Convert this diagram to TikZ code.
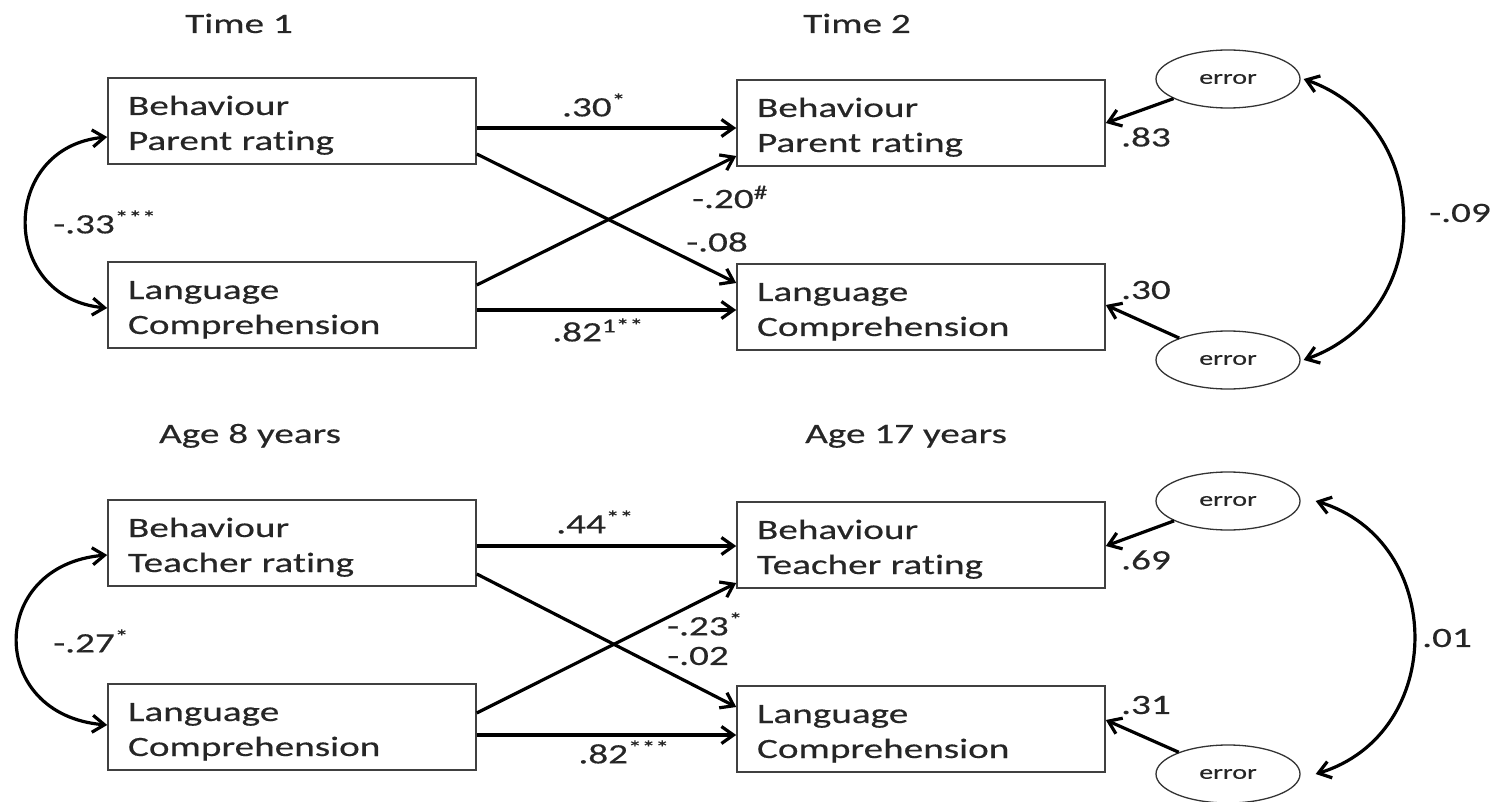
\documentclass[tikz,border=0pt]{standalone}
\usepackage{fontspec}
\setmainfont[FakeStretch=1.4,FakeBold=0.4,Ligatures=NoCommon]{Carlito}
\usetikzlibrary{arrows.meta,shapes.geometric}
\newcommand\bxfnt{\fontsize{28}{35}\selectfont}
\newcommand\errfnt{\fontsize{20}{24}\selectfont}
\tikzset{
  box/.style={draw=black!75, line width=1.6pt, minimum width=368pt, minimum height=86pt,
    inner xsep=20pt, inner ysep=0pt, text width=328pt, align=left,
    text height=20pt, text depth=32pt, font=\bxfnt, text=black!85},
  err/.style={draw=black!80, ellipse, line width=1.3pt, minimum width=144pt,
    minimum height=58pt, inner sep=0pt, font=\errfnt, text=black!85},
  arr/.style={line width=3.2pt, -{Straight Barb[length=12pt,width=17pt]}},
  darr/.style={line width=3.2pt, {Straight Barb[length=12pt,width=17pt]}-{Straight Barb[length=12pt,width=17pt]}},
  lab/.style={font=\bxfnt, inner sep=0pt, text=black!85},
}
\begin{document}
\begin{tikzpicture}[x=1pt,y=-1pt]
\useasboundingbox (0,0) rectangle (1496,802);
% ---------- top panel ----------
\node[lab, anchor=base] (t1) at (239,33) {Time 1};
\node[lab, anchor=base] (t2) at (857,33) {Time 2};
\node[box] (BP1) at (292,121) {Behaviour\\Parent rating};
\node[box] (LC1) at (292,305) {Language\\Comprehension};
\node[box] (BP2) at (921,123) {Behaviour\\Parent rating};
\node[box] (LC2) at (921,307) {Language\\Comprehension};
\node[err] (eT) at (1228,79) {error};
\node[err] (eB) at (1228,360) {error};

\draw[arr] ([yshift=-7pt]BP1.east) -- ([yshift=-5pt]BP2.west);
\draw[arr] ([yshift=-33pt]BP1.east) -- ([yshift=24pt]LC2.west);
\draw[arr] ([yshift=20pt]LC1.east) -- ([yshift=-33pt]BP2.west);
\draw[arr] ([yshift=-5pt]LC1.east) -- ([yshift=-3pt]LC2.west);
\draw[arr] (eT) -- (BP2.east);
\draw[arr] (eB) -- ([yshift=2pt]LC2.east);
\draw[darr] ([yshift=-16pt]BP1.west) .. controls +(-108,10) and +(-108,-10) .. ([yshift=-3pt]LC1.west);
\draw[darr] ([xshift=3pt]eT.east) .. controls +(132,47) and +(132,-47) .. ([xshift=3pt]eB.east);

\node[lab] (l30) at (594,105) {.30\textsuperscript{*}};
\node[lab] (l82a) at (598,330) {.82\textsuperscript{1**}};
\node[lab] (l20) at (730,197) {-.20\textsuperscript{\#}};
\node[lab] (l08) at (717,242) {-.08};
\node[lab, anchor=west] (l33) at (53,222) {-.33\textsuperscript{***}};
\node[lab] (l83) at (1146,137) {.83};
\node[lab] (l30e) at (1146,290) {.30};
\node[lab] (l09) at (1460,213) {-.09};

% ---------- bottom panel ----------
\node[lab, anchor=base] (t3) at (250,443) {Age 8 years};
\node[lab, anchor=base] (t4) at (906,443) {Age 17 years};
\node[box] (BP1b) at (292,543) {Behaviour\\Teacher rating};
\node[box] (LC1b) at (292,727) {Language\\Comprehension};
\node[box] (BP2b) at (921,545) {Behaviour\\Teacher rating};
\node[box] (LC2b) at (921,729) {Language\\Comprehension};
\node[err] (eT2) at (1228,501) {error};
\node[err] (eB2) at (1228,774) {error};

\draw[arr] ([yshift=-3pt]BP1b.east) -- ([yshift=-1pt]BP2b.west);
\draw[arr] ([yshift=-31pt]BP1b.east) -- ([yshift=22pt]LC2b.west);
\draw[arr] ([yshift=14pt]LC1b.east) -- ([yshift=-38pt]BP2b.west);
\draw[arr] ([yshift=-8pt]LC1b.east) -- ([yshift=-6pt]LC2b.west);
\draw[arr] (eT2) -- ([yshift=-1pt]BP2b.east);
\draw[arr] (eB2) -- ([yshift=9pt]LC2b.east);
\draw[darr] ([yshift=-12pt]BP1b.west) .. controls +(-120,10) and +(-120,-10) .. ([yshift=2pt]LC1b.west);
\draw[darr] ([xshift=15pt]eT2.east) .. controls +(131,40) and +(131,-40) .. ([xshift=15pt]eB2.east);

\node[lab] (l44) at (595,522) {.44\textsuperscript{**}};
\node[lab] (l23) at (705,624) {-.23\textsuperscript{*}};
\node[lab] (l02) at (698,656) {-.02};
\node[lab] (l82b) at (624,752) {.82\textsuperscript{***}};
\node[lab, anchor=west] (l27) at (53,641) {-.27\textsuperscript{*}};
\node[lab] (l69) at (1146,560) {.69};
\node[lab] (l31) at (1146,705) {.31};
\node[lab] (l01) at (1447,638) {.01};
\end{tikzpicture}
\end{document}
